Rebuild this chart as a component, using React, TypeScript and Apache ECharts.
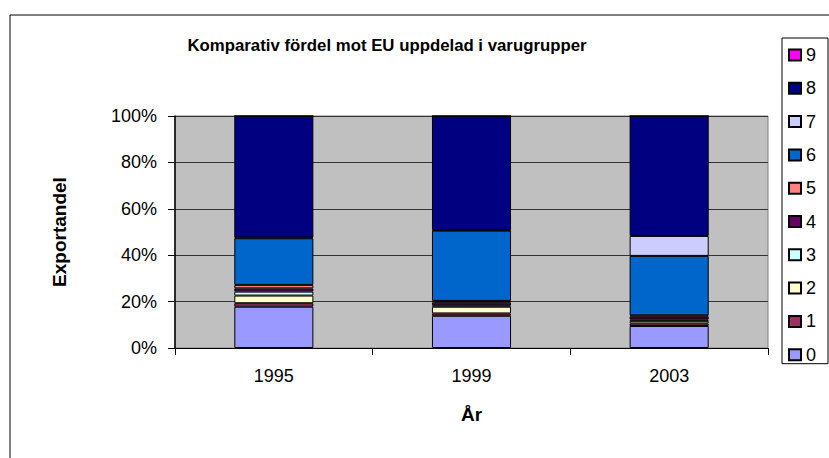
import React, { useEffect, useRef } from "react";
import * as echarts from "echarts";

const years = ["1995", "1999", "2003"];
const groups = ["0", "1", "2", "3", "4", "5", "6", "7", "8", "9"];
const colors = ["#9999FF", "#993366", "#FFFFCC", "#CCFFFF", "#660066", "#FF8080", "#0066CC", "#CCCCFF", "#000080", "#FF00FF"];

const g0 = [17.8, 13.9, 9.5];
const g1 = [1.5, 1.0, 1.1];
const g2 = [3.3, 2.9, 1.1];
const g3 = [1.7, 0.6, 0.6];
const g4 = [1.4, 1.3, 1.2];
const g5 = [1.5, 0.6, 0.6];
const g6 = [20.1, 30.3, 25.6];
const g7 = [0.3, 0.3, 8.6];
const g8 = [52.4, 49.1, 51.7];
const g9 = [0, 0, 0];
const groupValues = [g0, g1, g2, g3, g4, g5, g6, g7, g8, g9];

const yTicks = [0, 20, 40, 60, 80, 100];

const FONT = "'Liberation Sans', Arial, sans-serif";

export default function App() {
  const ref = useRef<HTMLDivElement>(null);
  useEffect(() => {
    document.body.style.margin = "0";
    const chart = echarts.init(ref.current!, null, { renderer: "svg" });
    chart.setOption({
      animation: false,
      backgroundColor: "#FFFFFF",
      title: {
        text: "Komparativ fördel mot EU uppdelad i varugrupper",
        left: 382,
        top: 32,
        textAlign: "center",
        textStyle: { fontFamily: FONT, fontSize: 16.8, fontWeight: "bold", color: "#000" },
      },
      graphic: [
        {
          type: "rect",
          shape: { x: 10, y: 15, width: 830, height: 460 },
          style: { fill: "none", stroke: "#000", lineWidth: 1 },
          silent: true,
        },
      ],
      legend: {
        orient: "vertical",
        left: 782,
        top: 38,
        data: groups.slice().reverse(),
        icon: "rect",
        itemWidth: 12,
        itemHeight: 11,
        itemGap: 15.3,
        itemTextGap: 4,
        padding: [8, 12, 0, 6],
        borderColor: "#000",
        borderWidth: 1,
        backgroundColor: "#fff",
        textStyle: { fontFamily: FONT, fontSize: 18, lineHeight: 18, color: "#000" },
      },
      grid: {
        left: 175,
        top: 116,
        right: 61,
        bottom: 110,
        show: true,
        backgroundColor: "#C0C0C0",
        borderColor: "#808080",
        borderWidth: 1,
      },
      xAxis: {
        type: "category",
        data: years,
        name: "År",
        nameLocation: "middle",
        nameGap: 57,
        nameTextStyle: { fontFamily: FONT, fontSize: 19, fontWeight: "bold", color: "#000" },
        axisLine: { lineStyle: { color: "#000", width: 1 } },
        axisTick: { show: true, length: 7, lineStyle: { color: "#000" } },
        axisLabel: { fontFamily: FONT, fontSize: 18, color: "#000", margin: 19 },
      },
      yAxis: {
        type: "value",
        min: yTicks[0],
        max: yTicks[yTicks.length - 1],
        interval: 20,
        name: "Exportandel",
        nameLocation: "middle",
        nameRotate: 90,
        nameGap: 106,
        nameTextStyle: { fontFamily: FONT, fontSize: 19, fontWeight: "bold", color: "#000" },
        axisLine: { show: true, lineStyle: { color: "#000", width: 1.5 } },
        axisTick: { show: true, length: 7, lineStyle: { color: "#000" } },
        axisLabel: { fontFamily: FONT, fontSize: 18, color: "#000", margin: 18, formatter: "{value}%" },
        splitLine: { show: true, lineStyle: { color: "#333", width: 1 } },
      },
      series: groups.map((g, i) => ({
        name: g,
        type: "bar",
        stack: "total",
        barWidth: "40%",
        data: groupValues[i],
        itemStyle: { color: colors[i], borderColor: "#000", borderWidth: 1 },
      })),
    });
    return () => chart.dispose();
  }, []);
  return <div ref={ref} style={{ position: "absolute", left: 0, top: 0, width: 829, height: 458 }} />;
}
